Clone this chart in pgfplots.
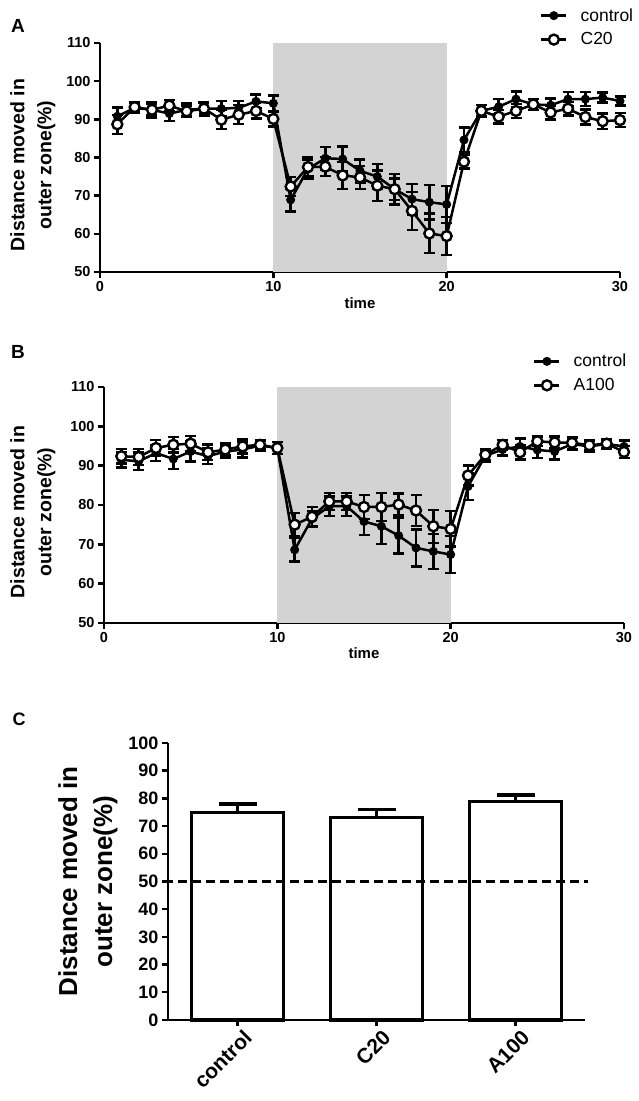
\documentclass[border=0pt]{standalone}
\usepackage{fontspec}
\setmainfont{Liberation Sans}
\usepackage{pgfplots}
\usepackage{pgfplotstable}
\pgfplotsset{compat=1.18}
\definecolor{shade}{RGB}{211,211,211}

\pgfplotstableread{
t y e
1 90.8 2.3
2 93.0 1.2
3 92.5 2.0
4 91.5 2.0
5 92.5 1.8
6 92.8 1.8
7 92.8 2.0
8 93.0 1.8
9 94.7 1.8
10 94.2 2.0
11 68.9 3.0
12 77.0 2.5
13 79.8 3.0
14 79.6 3.3
15 76.5 3.0
16 75.0 3.3
17 71.7 2.8
18 69.1 4.0
19 68.3 4.5
20 67.7 4.9
21 84.6 3.3
22 92.2 1.5
23 93.3 2.0
24 95.3 2.0
25 93.9 1.5
26 93.7 1.8
27 95.3 1.8
28 95.3 1.8
29 95.7 1.3
30 94.8 1.2
}\Acon

\pgfplotstableread{
t y e
1 88.7 2.5
2 93.2 1.2
3 92.5 1.5
4 93.6 1.5
5 92.1 1.5
6 92.8 1.5
7 89.9 2.5
8 91.2 2.5
9 92.2 2.0
10 90.1 2.0
11 72.4 2.5
12 77.5 2.5
13 77.6 2.5
14 75.3 3.5
15 74.8 3.0
16 72.6 4.0
17 71.7 4.0
18 66.0 5.0
19 60.1 5.2
20 59.4 5.0
21 78.9 1.8
22 92.2 1.5
23 90.7 1.8
24 92.2 1.8
25 93.9 1.5
26 91.8 1.8
27 92.8 1.8
28 90.6 2.0
29 89.5 2.0
30 89.8 1.8
}\Acxx

\pgfplotstableread{
t y e
1 91.5 2.0
2 91.1 2.2
3 93.2 2.0
4 91.7 2.5
5 93.6 2.5
6 92.4 2.0
7 93.6 1.5
8 94.1 2.0
9 95.1 1.2
10 94.5 1.5
11 68.6 3.0
12 76.5 2.0
13 79.7 2.5
14 79.7 2.5
15 75.8 3.5
16 74.6 4.5
17 72.2 4.5
18 69.1 4.7
19 68.2 4.5
20 67.4 4.7
21 84.7 3.5
22 92.5 1.5
23 94.1 1.5
24 94.9 2.0
25 94.0 2.0
26 93.6 2.0
27 95.5 1.5
28 94.9 1.5
29 95.5 1.2
30 94.9 1.5
}\Bcon

\pgfplotstableread{
t y e
1 92.4 1.8
2 92.2 2.0
3 94.5 2.0
4 95.3 2.0
5 95.6 2.0
6 93.4 2.0
7 94.1 1.5
8 94.9 1.8
9 95.3 1.2
10 94.5 1.5
11 75.0 3.0
12 77.0 2.5
13 80.9 2.2
14 80.9 2.2
15 79.5 3.0
16 79.5 3.5
17 80.1 2.8
18 78.6 4.0
19 74.6 4.2
20 73.9 4.5
21 87.5 2.5
22 92.8 1.5
23 95.3 1.2
24 93.4 1.8
25 96.2 1.2
26 95.9 1.5
27 95.8 1.5
28 95.2 1.2
29 95.6 1.2
30 93.5 1.5
}\Baxx

\pgfplotstableread{
x y e
0 75.0 3.0
1 73.0 3.0
2 78.8 2.4
}\Cbars

\pgfplotsset{
  gp/.style={
    scale only axis,
    axis x line*=bottom, axis y line*=left,
    axis line style={line width=2.6pt, -},
    major tick style={line width=2.4pt, black},
    major tick length=6pt,
    tick align=outside,
    /pgf/number format/assume math mode=true,
    ticklabel style={font=\fontsize{14.5}{16}\selectfont\bfseries},
    xlabel style={font=\fontsize{15}{17}\selectfont\bfseries},
    ylabel style={font=\fontsize{19.5}{27}\selectfont\bfseries, align=center, anchor=center},
    clip=false,
    legend cell align=left,
    legend style={draw=none, fill=none, anchor=north west,
      font=\fontsize{17.5}{20}\selectfont, row sep=6pt, inner sep=0pt,
      /tikz/every odd column/.append style={column sep=11pt}},
    legend image code/.code={\draw[mark repeat=2,mark phase=2,#1] plot coordinates {(0pt,0pt)(12.5pt,0pt)(25pt,0pt)};},
  },
  ctrl/.style={black, line width=2.5pt, mark=*, mark size=4pt,
    mark options={fill=black, line width=1pt},
    error bars/.cd, y dir=both, y explicit,
    error bar style={line width=2.4pt, black},
    error mark options={rotate=90, mark size=5.5pt, line width=2.4pt, black}},
  trt/.style={black, line width=2.5pt, mark=*, mark size=5pt,
    mark options={fill=white, line width=2.4pt},
    error bars/.cd, y dir=both, y explicit,
    error bar style={line width=2.4pt, black},
    error mark options={rotate=90, mark size=5.5pt, line width=2.4pt, black}},
}

\begin{document}
\begin{tikzpicture}
\path[use as bounding box] (0,0) rectangle (638pt,1101pt);

% ---------- Panel A ----------
\begin{axis}[gp, at={(100pt,829pt)}, anchor=south west,
  width=520pt, height=229pt,
  xmin=0, xmax=30, ymin=50, ymax=110,
  xtick={0,10,20,30}, ytick={50,60,...,110},
  xlabel={time}, ylabel={Distance moved in\\outer zone(\%)},
  xlabel style={at={(axis description cs:0.5,-0.095)}},
  ylabel style={at={(axis description cs:-0.129,0.467)}},
  legend style={at={(axis description cs:0.846,1.16)}},
]
\addplot[fill=shade, draw=none, forget plot] coordinates {(10,50) (10,110) (20,110) (20,50)} -- cycle;
\addplot[ctrl] table[x=t, y=y, y error=e] {\Acon};
\addlegendentry{control}
\addplot[trt] table[x=t, y=y, y error=e] {\Acxx};
\addlegendentry{C20}
\end{axis}

% ---------- Panel B ----------
\begin{axis}[gp, at={(104pt,478pt)}, anchor=south west,
  width=520pt, height=236pt,
  xmin=0, xmax=30, ymin=50, ymax=110,
  xtick={0,10,20,30}, ytick={50,60,...,110},
  xlabel={time}, ylabel={Distance moved in\\outer zone(\%)},
  xlabel style={at={(axis description cs:0.5,-0.088)}},
  ylabel style={at={(axis description cs:-0.137,0.47)}},
  legend style={at={(axis description cs:0.825,1.148)}},
]
\addplot[fill=shade, draw=none, forget plot] coordinates {(10,50) (10,110) (20,110) (20,50)} -- cycle;
\addplot[ctrl] table[x=t, y=y, y error=e] {\Bcon};
\addlegendentry{control}
\addplot[trt] table[x=t, y=y, y error=e] {\Baxx};
\addlegendentry{A100}
\end{axis}

% ---------- Panel C ----------
\begin{axis}[gp, at={(168pt,81pt)}, anchor=south west,
  width=417pt, height=277pt,
  xmin=-0.5, xmax=2.5, ymin=0, ymax=100,
  xtick={0,1,2}, xticklabels={control,C20,A100},
  ytick={0,10,...,100},
  ticklabel style={font=\fontsize{18}{20}\selectfont\bfseries},
  xticklabel style={rotate=45, anchor=north east, font=\fontsize{21}{22}\selectfont\bfseries, xshift=5pt, yshift=-2pt},
  ylabel={Distance moved in\\outer zone(\%)},
  ylabel style={at={(axis description cs:-0.192,0.5)}, font=\fontsize{26}{35}\selectfont\bfseries},
]
\addplot[ybar, bar width=0.665, fill=white, draw=black, line width=3.4pt,
  error bars/.cd, y dir=plus, y explicit,
  error bar style={line width=3.2pt, black},
  error mark options={rotate=90, mark size=19pt, line width=3.2pt, black}]
  table[x=x, y=y, y error=e] {\Cbars};
\addplot[black, line width=3pt, dash pattern=on 9pt off 5pt, mark=none] coordinates {(-0.53,50) (2.52,50)};
\end{axis}

\node[font=\fontsize{19}{21}\selectfont\bfseries] at (18pt,1075pt) {A};
\node[font=\fontsize{19}{21}\selectfont\bfseries] at (18pt,749pt) {B};
\node[font=\fontsize{18}{20}\selectfont\bfseries] at (19pt,382pt) {C};
\end{tikzpicture}
\end{document}
